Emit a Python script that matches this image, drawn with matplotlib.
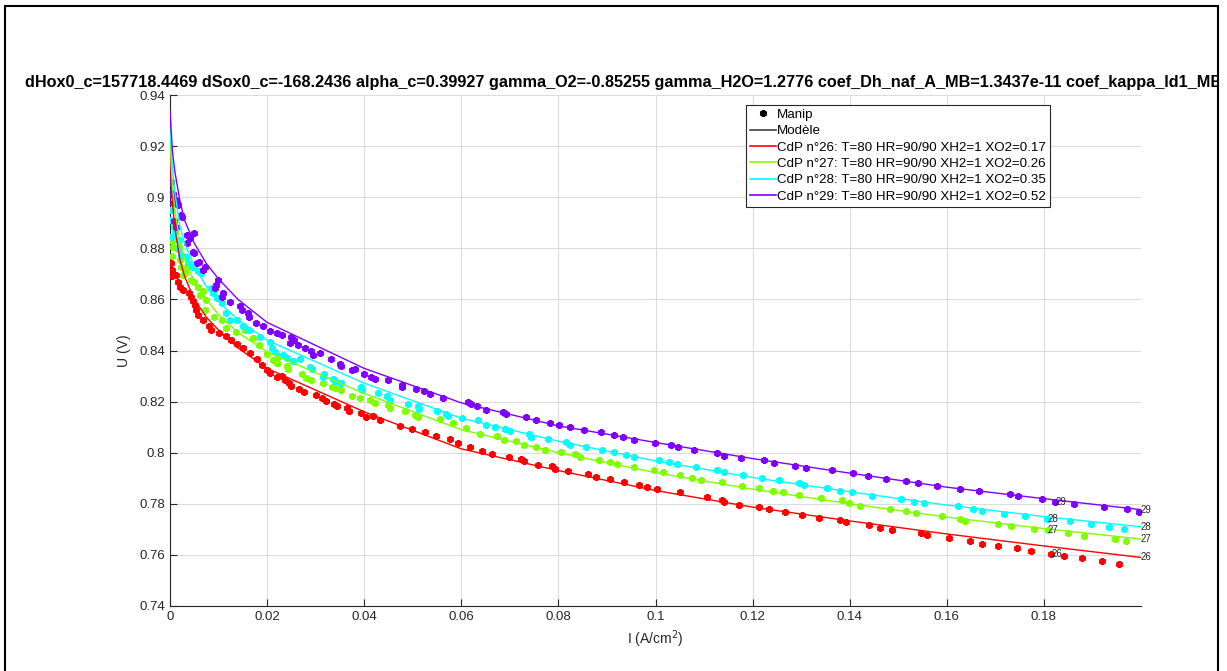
import matplotlib
matplotlib.use('Agg')
import matplotlib.pyplot as plt
from matplotlib.lines import Line2D
from matplotlib.patches import Rectangle
from matplotlib.transforms import Bbox, TransformedBbox
from matplotlib.ticker import FuncFormatter

plt.rcParams['font.family'] = ['Liberation Sans', 'DejaVu Sans']

# ---- model curves ----
I_model = [0, 0.0005, 0.001, 0.002, 0.003, 0.005, 0.0075, 0.01, 0.014, 0.02,
           0.04, 0.06, 0.08, 0.10, 0.12, 0.14, 0.16, 0.18, 0.20]
U_model_26 = [0.9162, 0.898, 0.888, 0.876, 0.869, 0.860, 0.853, 0.848, 0.841, 0.833,
              0.8160, 0.8015, 0.7930, 0.7852, 0.7787, 0.7733, 0.7682, 0.7635, 0.7590]
U_model_27 = [0.9227, 0.904, 0.895, 0.883, 0.876, 0.867, 0.860, 0.854, 0.847, 0.8395,
              0.8232, 0.8090, 0.8000, 0.7922, 0.7857, 0.7800, 0.7748, 0.7703, 0.7662]
U_model_28 = [0.9273, 0.912, 0.902, 0.889, 0.882, 0.873, 0.865, 0.859, 0.852, 0.844,
              0.8272, 0.8135, 0.8045, 0.7968, 0.7903, 0.7847, 0.7795, 0.7750, 0.7710]
U_model_29 = [0.934, 0.918, 0.910, 0.899, 0.891, 0.882, 0.874, 0.868, 0.860, 0.851,
              0.8330, 0.8195, 0.8105, 0.8040, 0.7977, 0.7920, 0.7865, 0.7820, 0.7777]

# ---- measured points (Manip) ----
I_26 = [0.0002, 0.0005, 0.0004, 0.0012, 0.0016, 0.0021, 0.0026, 0.0040, 0.0043, 0.0047,
        0.0052, 0.0053, 0.0057, 0.0067, 0.0081, 0.0084, 0.0101, 0.0115, 0.0125, 0.0138,
        0.0150, 0.0165, 0.0180, 0.0190,
        0.0199, 0.0206, 0.0220, 0.0230, 0.0237, 0.0245, 0.0250, 0.0265, 0.0276, 0.0300,
        0.0313, 0.0322, 0.0338, 0.0343, 0.0364, 0.0368, 0.0394, 0.0403, 0.0418, 0.0432,
        0.0473, 0.0498, 0.0525, 0.0547, 0.0576, 0.0593, 0.0617,
        0.0643, 0.0664, 0.0698, 0.0722, 0.0729, 0.0758, 0.0787, 0.0794, 0.0820, 0.0861,
        0.0877, 0.0907, 0.0935, 0.0965, 0.0983, 0.1003, 0.1050,
        0.1106, 0.1137, 0.1141, 0.1171, 0.1213, 0.1233, 0.1267, 0.1301, 0.1336, 0.1381,
        0.1392, 0.1440, 0.1462, 0.1488,
        0.1547, 0.1559, 0.1605, 0.1647, 0.1672, 0.1706, 0.1745, 0.1773, 0.1815, 0.1842,
        0.1878, 0.1920, 0.1955]
U_26 = [0.8742, 0.8716, 0.8690, 0.8696, 0.8670, 0.8650, 0.8637, 0.8624, 0.8611, 0.8592,
        0.8579, 0.8559, 0.8540, 0.8520, 0.8494, 0.8481, 0.8468, 0.8455, 0.8440, 0.8425,
        0.8408, 0.8390, 0.8365, 0.8345,
        0.8325, 0.8312, 0.8296, 0.8301, 0.8285, 0.8272, 0.8262, 0.8249, 0.8238, 0.8224,
        0.8214, 0.8204, 0.8192, 0.8184, 0.8175, 0.8165, 0.8157, 0.8138, 0.8145, 0.8129,
        0.8104, 0.8092, 0.8081, 0.8065, 0.8053, 0.8038, 0.8022,
        0.8008, 0.7995, 0.7984, 0.7976, 0.7969, 0.7953, 0.7946, 0.7936, 0.7927, 0.7917,
        0.7906, 0.7897, 0.7887, 0.7875, 0.7866, 0.7859, 0.7845,
        0.7825, 0.7816, 0.7807, 0.7797, 0.7788, 0.7780, 0.7767, 0.7756, 0.7746, 0.7738,
        0.7727, 0.7717, 0.7707, 0.7696,
        0.7686, 0.7677, 0.7666, 0.7656, 0.7644, 0.7634, 0.7626, 0.7617, 0.7604, 0.7594,
        0.7587, 0.7578, 0.7566]

I_27 = [0.0002, 0.0005, 0.0007, 0.0019, 0.0004, 0.0021, 0.0023, 0.0030, 0.0036, 0.0026,
        0.0043, 0.0050, 0.0057, 0.0067, 0.0062, 0.0074, 0.0073, 0.0091, 0.0107, 0.0115,
        0.0136, 0.0155, 0.0170, 0.0184,
        0.0199, 0.0213, 0.0223, 0.0220, 0.0240, 0.0243, 0.0271, 0.0281, 0.0290, 0.0316,
        0.0333, 0.0340, 0.0353, 0.0375, 0.0392, 0.0412, 0.0422, 0.0449, 0.0453, 0.0484,
        0.0504, 0.0510, 0.0556, 0.0583, 0.0610,
        0.0638, 0.0673, 0.0687, 0.0712, 0.0730, 0.0753, 0.0772, 0.0805, 0.0835, 0.0845,
        0.0883, 0.0907, 0.0920, 0.0955, 0.0997, 0.1015, 0.1051,
        0.1075, 0.1094, 0.1137, 0.1178, 0.1214, 0.1241, 0.1262, 0.1295, 0.1341, 0.1385,
        0.1399, 0.1421, 0.1484,
        0.1516, 0.1536, 0.1590, 0.1628, 0.1637, 0.1706, 0.1732, 0.1780, 0.1808, 0.1850,
        0.1883, 0.1947, 0.1969]
U_27 = [0.8846, 0.8827, 0.8807, 0.8807, 0.8768, 0.8755, 0.8728, 0.8702, 0.8728, 0.8696,
        0.8677, 0.8670, 0.8650, 0.8631, 0.8618, 0.8598, 0.8559, 0.8533, 0.8520, 0.8487,
        0.8474, 0.8481, 0.8448, 0.8420,
        0.8386, 0.8364, 0.8374, 0.8353, 0.8340, 0.8327, 0.8309, 0.8292, 0.8285, 0.8272,
        0.8259, 0.8253, 0.8244, 0.8223, 0.8214, 0.8205, 0.8194, 0.8187, 0.8175, 0.8162,
        0.8149, 0.8140, 0.8132, 0.8115, 0.8095,
        0.8074, 0.8064, 0.8051, 0.8044, 0.8031, 0.8022, 0.8012, 0.8001, 0.7993, 0.7984,
        0.7973, 0.7964, 0.7956, 0.7944, 0.7933, 0.7923, 0.7911,
        0.7902, 0.7894, 0.7884, 0.7871, 0.7860, 0.7852, 0.7845, 0.7833, 0.7824, 0.7813,
        0.7803, 0.7793, 0.7781,
        0.7773, 0.7764, 0.7752, 0.7742, 0.7734, 0.7722, 0.7714, 0.7703, 0.7696, 0.7684,
        0.7674, 0.7664, 0.7655]

I_28 = [0.0002, 0.0000, 0.0005, 0.0009, 0.0011, 0.0004, 0.0019, 0.0016, 0.0023, 0.0033,
        0.0038, 0.0048, 0.0057, 0.0064, 0.0084, 0.0088, 0.0096, 0.0108, 0.0115, 0.0123,
        0.0139, 0.0150, 0.0163, 0.0185, 0.0206,
        0.0211, 0.0216, 0.0233, 0.0240, 0.0254, 0.0267, 0.0288, 0.0293, 0.0318, 0.0316,
        0.0336, 0.0340, 0.0352, 0.0394, 0.0396, 0.0429, 0.0446, 0.0453, 0.0490, 0.0511,
        0.0512, 0.0549, 0.0569, 0.0573, 0.0602, 0.0634,
        0.0650, 0.0669, 0.0691, 0.0700, 0.0739, 0.0744, 0.0778, 0.0815, 0.0823, 0.0857,
        0.0890, 0.0914, 0.0940, 0.0955, 0.1008, 0.1027, 0.1044,
        0.1084, 0.1127, 0.1142, 0.1181, 0.1219, 0.1255, 0.1295, 0.1305, 0.1353, 0.1381,
        0.1404, 0.1446,
        0.1506, 0.1533, 0.1553, 0.1623, 0.1654, 0.1673, 0.1718, 0.1761, 0.1807, 0.1853,
        0.1898, 0.1934, 0.1966]
U_28 = [0.8950, 0.8911, 0.8905, 0.8885, 0.8865, 0.8846, 0.8833, 0.8799, 0.8774, 0.8767,
        0.8742, 0.8728, 0.8713, 0.8702, 0.8644, 0.8624, 0.8605, 0.8585, 0.8546, 0.8520,
        0.8520, 0.8494, 0.8481, 0.8452, 0.8435,
        0.8409, 0.8396, 0.8383, 0.8370, 0.8357, 0.8366, 0.8335, 0.8327, 0.8309, 0.8298,
        0.8288, 0.8279, 0.8272, 0.8257, 0.8246, 0.8233, 0.8220, 0.8207, 0.8192, 0.8181,
        0.8171, 0.8162, 0.8151, 0.8142, 0.8136, 0.8129,
        0.8109, 0.8100, 0.8092, 0.8083, 0.8073, 0.8061, 0.8055, 0.8042, 0.8031, 0.8022,
        0.8012, 0.8003, 0.7992, 0.7983, 0.7973, 0.7964, 0.7954,
        0.7944, 0.7932, 0.7923, 0.7911, 0.7901, 0.7892, 0.7881, 0.7872, 0.7862, 0.7852,
        0.7845, 0.7832,
        0.7820, 0.7809, 0.7803, 0.7790, 0.7781, 0.7772, 0.7760, 0.7751, 0.7741, 0.7731,
        0.7721, 0.7711, 0.7703]

I_29 = [0.0003, 0.0001, 0.0007, 0.0012, 0.0007, 0.0016, 0.0023, 0.0025, 0.0009, 0.0012,
        0.0036, 0.0041, 0.0050, 0.0034, 0.0047, 0.0050, 0.0060, 0.0055, 0.0073, 0.0067,
        0.0098, 0.0095, 0.0093, 0.0110, 0.0107, 0.0123, 0.0144, 0.0148, 0.0160, 0.0163,
        0.0178, 0.0191,
        0.0206, 0.0220, 0.0231, 0.0250, 0.0256, 0.0247, 0.0264, 0.0279, 0.0290, 0.0295,
        0.0309, 0.0331, 0.0350, 0.0352, 0.0375, 0.0382, 0.0399, 0.0414, 0.0423, 0.0448,
        0.0477, 0.0477, 0.0506, 0.0523, 0.0536, 0.0562, 0.0613, 0.0621, 0.0632,
        0.0650, 0.0686, 0.0693, 0.0734, 0.0753, 0.0782, 0.0802, 0.0823, 0.0852, 0.0887,
        0.0914, 0.0934, 0.0956, 0.0998, 0.1031, 0.1046,
        0.1080, 0.1127, 0.1142, 0.1176, 0.1224, 0.1245, 0.1288, 0.1311, 0.1363, 0.1407,
        0.1438, 0.1475,
        0.1516, 0.1540, 0.1579, 0.1627, 0.1667, 0.1730, 0.1747, 0.1797, 0.1823, 0.1861,
        0.1924, 0.1971, 0.1996]
U_29 = [0.9061, 0.9022, 0.9013, 0.8989, 0.8976, 0.8970, 0.8931, 0.8924, 0.8905, 0.8885,
        0.8852, 0.8839, 0.8859, 0.8822, 0.8787, 0.8781, 0.8748, 0.8742, 0.8728, 0.8716,
        0.8676, 0.8657, 0.8644, 0.8627, 0.8611, 0.8588, 0.8575, 0.8559, 0.8546, 0.8530,
        0.8509, 0.8497,
        0.8478, 0.8468, 0.8461, 0.8451, 0.8442, 0.8431, 0.8421, 0.8409, 0.8398, 0.8383,
        0.8390, 0.8368, 0.8348, 0.8340, 0.8322, 0.8327, 0.8309, 0.8298, 0.8288, 0.8283,
        0.8266, 0.8257, 0.8249, 0.8242, 0.8229, 0.8216, 0.8197, 0.8190, 0.8181,
        0.8168, 0.8159, 0.8151, 0.8139, 0.8129, 0.8118, 0.8109, 0.8099, 0.8090, 0.8082,
        0.8069, 0.8061, 0.8050, 0.8038, 0.8030, 0.8021,
        0.8012, 0.7999, 0.7989, 0.7978, 0.7970, 0.7961, 0.7949, 0.7941, 0.7931, 0.7921,
        0.7910, 0.7898,
        0.7888, 0.7881, 0.7871, 0.7859, 0.7849, 0.7840, 0.7829, 0.7820, 0.7809, 0.7799,
        0.7788, 0.7780, 0.7768]

cells = ['26', '27', '28', '29']
xo2 = ['0.17', '0.26', '0.35', '0.52']
colors = ['#ff0000', '#80ff00', '#00ffff', '#8000ff']
I_data = [I_26, I_27, I_28, I_29]
U_data = [U_26, U_27, U_28, U_29]
U_models = [U_model_26, U_model_27, U_model_28, U_model_29]
I_tag = 0.182  # current density of the measured point that carries the cell number

title = ('dHox0_c=157718.4469 dSox0_c=-168.2436 alpha_c=0.39927 gamma_O2=-0.85255 '
         'gamma_H2O=1.2776 coef_Dh_naf_A_MB=1.3437e-11 coef_kappa_ld1_MB=1.0e+00')

fig = plt.figure(figsize=(12.27, 6.71), dpi=100)
ax = fig.add_axes([170 / 1227, 1 - 606 / 671, 971 / 1227, 511 / 671])

for c, col, Ix, Ux, Um in zip(cells, colors, I_data, U_data, U_models):
    ax.plot(Ix, Ux, ls='none', marker=(6, 2, 0), ms=5, mew=1.8, color=col, zorder=3)
    ax.plot(I_model, Um, color=col, lw=1.0, zorder=4)
    li = min(range(len(Ix)), key=lambda k: abs(Ix[k] - I_tag))
    ax.text(Ix[li], Ux[li], c, fontsize=7, color='#262626', va='center', ha='left', zorder=5)
    ax.text(I_model[-1], Um[-1], c, fontsize=7, color='#262626', va='center', ha='left',
            zorder=5, clip_on=False)

ax.set_xlim(0, 0.2)
ax.set_ylim(0.74, 0.94)
ax.set_xticks([0, 0.02, 0.04, 0.06, 0.08, 0.1, 0.12, 0.14, 0.16, 0.18])
ax.set_yticks([0.74, 0.76, 0.78, 0.8, 0.82, 0.84, 0.86, 0.88, 0.9, 0.92, 0.94])
fmt = FuncFormatter(lambda v, p: '%g' % round(v, 4))
ax.xaxis.set_major_formatter(fmt)
ax.yaxis.set_major_formatter(fmt)
ax.grid(True, color='#dcdcdc', lw=0.8)
ax.set_axisbelow(True)
for s in ['top', 'right']:
    ax.spines[s].set_visible(False)
for s in ['left', 'bottom']:
    ax.spines[s].set_color('#262626')
    ax.spines[s].set_linewidth(0.8)
ax.tick_params(direction='in', length=5, width=0.8, colors='#262626', labelsize=9.5,
               labelcolor='#262626')
ax.set_xlabel('I (A/cm$^{2}$)', fontsize=10, color='#262626', labelpad=4)
ax.set_ylabel('U (V)', fontsize=10, color='#262626', labelpad=6)

handles = [Line2D([], [], ls='none', marker=(6, 2, 0), ms=5, mew=1.8, color='k'),
           Line2D([], [], color='#404040', lw=1.2)]
labels = ['Manip', 'Modèle']
for c, col, x in zip(cells, colors, xo2):
    handles.append(Line2D([], [], color=col, lw=1.2))
    labels.append('CdP n°%s: T=80 HR=90/90 XH2=1 XO2=%s' % (c, x))
leg = ax.legend(handles, labels, loc='upper left', bbox_to_anchor=(0.593, 0.981),
                borderaxespad=0, fontsize=9.6, handlelength=1.95, handletextpad=0.1,
                labelspacing=0.3, borderpad=0.3, fancybox=False, framealpha=1,
                edgecolor='#262626')
leg.get_frame().set_linewidth(0.8)

t = fig.text(25 / 1227, 1 - 82 / 671, title, fontsize=11.7, fontweight='bold',
             ha='left', va='center', color='black')
t.set_clip_box(TransformedBbox(Bbox([[0, 0], [1217 / 1227, 1]]), fig.transFigure))
t.set_clip_on(True)

fig.patches.append(Rectangle((5 / 1227, -0.05), 1213 / 1227, 1.05 - 6 / 671,
                             transform=fig.transFigure, fill=False, ec='black', lw=1.5))

fig.savefig('out.png', dpi=100)
